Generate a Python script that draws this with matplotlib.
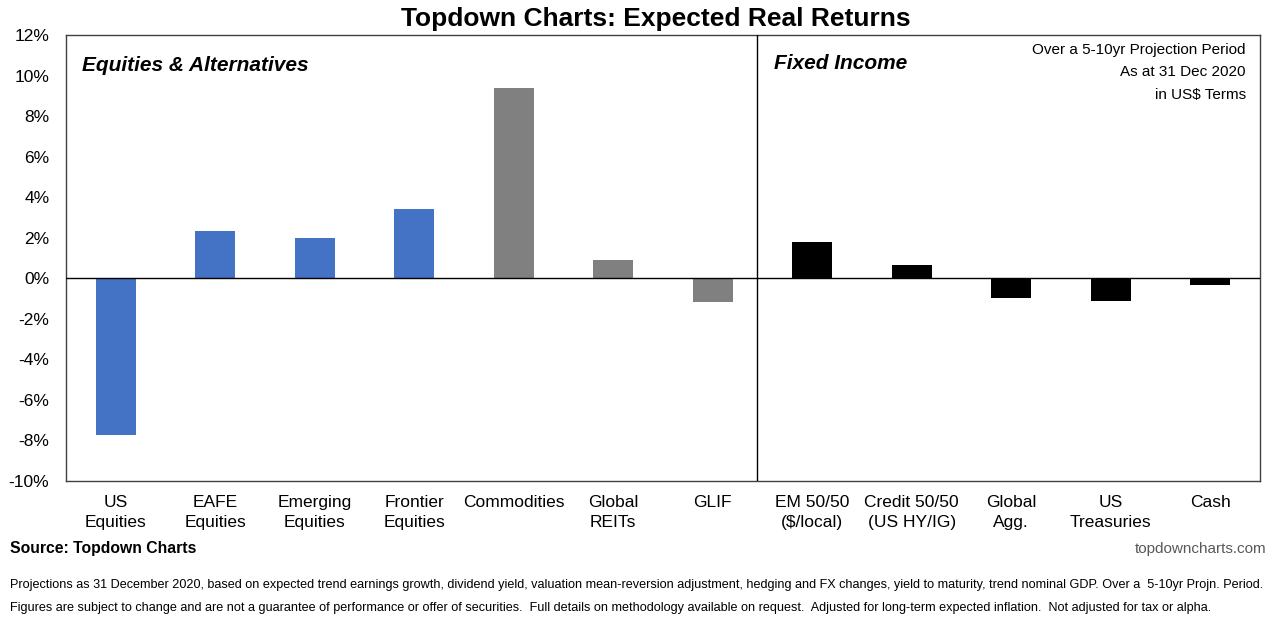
import matplotlib
matplotlib.use("Agg")
import matplotlib.pyplot as plt
from matplotlib.ticker import FuncFormatter, MultipleLocator

plt.rcParams['font.family'] = ['Liberation Sans', 'DejaVu Sans']

categories = ["US\nEquities", "EAFE\nEquities", "Emerging\nEquities", "Frontier\nEquities",
              "Commodities", "Global\nREITs", "GLIF",
              "EM 50/50\n($/local)", "Credit 50/50\n(US HY/IG)", "Global\nAgg.",
              "US\nTreasuries", "Cash"]
values = [-7.75, 2.35, 2.0, 3.4, 9.4, 0.9, -1.15, 1.8, 0.65, -0.95, -1.1, -0.35]
groups = ["eq", "eq", "eq", "eq", "alt", "alt", "alt", "fi", "fi", "fi", "fi", "fi"]
group_colors = {"eq": "#4472C4", "alt": "#808080", "fi": "#000000"}

fig = plt.figure(figsize=(12.8, 6.25), dpi=100)
ax = fig.add_axes([66/1280, 1 - 481/625, (1260-66)/1280, (481-35)/625])

x = list(range(len(categories)))
colors = [group_colors[g] for g in groups]
ax.bar(x, values, width=0.40, color=colors, zorder=3)

ax.set_xlim(-0.5, len(categories) - 0.5)
ax.set_ylim(-10, 12)
ax.yaxis.set_major_locator(MultipleLocator(2))
ax.yaxis.set_major_formatter(FuncFormatter(lambda v, p: f"{v:.0f}%"))
ax.axhline(0, color="#000000", lw=1.0, zorder=4)
ax.axvline(6.44, color="#000000", lw=1.0, zorder=4)

ax.set_xticks(x)
ax.set_xticklabels(categories, fontsize=12.5, linespacing=1.4)
ax.tick_params(axis="x", length=0, pad=10)
ax.tick_params(axis="y", length=0, pad=12, labelsize=12.5)
for s in ax.spines.values():
    s.set_color("#404040")
    s.set_linewidth(1.0)

ax.text(0.013, 0.932, "Equities & Alternatives", transform=ax.transAxes,
        fontsize=15, fontweight="bold", fontstyle="italic", va="center", ha="left")
ax.text(0.593, 0.937, "Fixed Income", transform=ax.transAxes,
        fontsize=15, fontweight="bold", fontstyle="italic", va="center", ha="left")
ax.text(0.988, 0.982, "Over a 5-10yr Projection Period\nAs at 31 Dec 2020\nin US$ Terms",
        transform=ax.transAxes, fontsize=11, ha="right", va="top", linespacing=1.75)

fig.text(656/1280, 1 - 19/625, "Topdown Charts: Expected Real Returns", ha="center", va="center",
         fontsize=19, fontweight="bold")
fig.text(10/1280, 1 - 549/625, "Source: Topdown Charts", ha="left", va="center",
         fontsize=11.3, fontweight="bold")
fig.text(1266/1280, 1 - 549/625, "topdowncharts.com", ha="right", va="center",
         fontsize=11, color="#595959")
fig.text(10/1280, 1 - 585/625,
         "Projections as 31 December 2020, based on expected trend earnings growth, dividend yield, valuation mean-reversion adjustment, hedging and FX changes, yield to maturity, trend nominal GDP. Over a  5-10yr Projn. Period.",
         ha="left", va="center", fontsize=9.05)
fig.text(10/1280, 1 - 608/625,
         "Figures are subject to change and are not a guarantee of performance or offer of securities.  Full details on methodology available on request.  Adjusted for long-term expected inflation.  Not adjusted for tax or alpha.",
         ha="left", va="center", fontsize=9.05)

fig.savefig("out.png", dpi=100)
